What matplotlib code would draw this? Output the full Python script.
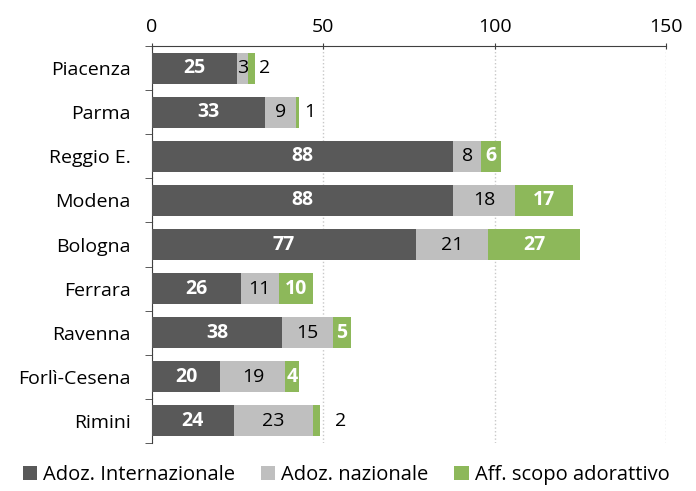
import numpy as np
import matplotlib
matplotlib.use("Agg")
import matplotlib.pyplot as plt

plt.rcParams['font.family'] = ['Open Sans', 'DejaVu Sans']

provinces = ['Piacenza', 'Parma', 'Reggio E.', 'Modena', 'Bologna',
             'Ferrara', 'Ravenna', 'Forlì-Cesena', 'Rimini']
adoz_int = [25, 33, 88, 88, 77, 26, 38, 20, 24]
adoz_naz = [3, 9, 8, 18, 21, 11, 15, 19, 23]
aff_scopo = [2, 1, 6, 17, 27, 10, 5, 4, 2]
series_names = ['Adoz. Internazionale', 'Adoz. nazionale', 'Aff. scopo adorattivo']
colors = ['#595959', '#bfbfbf', '#8db85a']

fig = plt.figure(figsize=(6.96, 4.91), dpi=100)
ax = fig.add_axes([0.218, 0.098, 0.739, 0.808])

y = np.arange(len(provinces))
left = np.zeros(len(provinces))
data = [adoz_int, adoz_naz, aff_scopo]
for vals, col, name in zip(data, colors, series_names):
    vals = np.array(vals)
    ax.barh(y, vals, left=left, height=0.7, color=col, label=name, zorder=3)
    left = left + vals

fs = 14
# labels
for i in range(len(provinces)):
    a, n, f = adoz_int[i], adoz_naz[i], aff_scopo[i]
    ax.text(a / 2, y[i], str(a), ha='center', va='center', color='white',
            fontsize=fs, fontweight='bold', zorder=4)
    ax.text(a + n / 2, y[i], str(n), ha='center', va='center', color='black',
            fontsize=fs, zorder=4)
    if f >= 4:
        ax.text(a + n + f / 2, y[i], str(f), ha='center', va='center',
                color='white', fontsize=fs, fontweight='bold', zorder=4)
    else:
        off = 6 if i == len(provinces) - 1 else 3
        ax.text(a + n + f + off, y[i], str(f), ha='center', va='center',
                color='black', fontsize=fs, zorder=4)

ax.set_xlim(0, 150)
ax.set_ylim(len(provinces) - 0.5, -0.5)
ax.set_yticks(y)
ax.set_yticklabels(provinces, fontsize=fs)
ax.set_yticks(np.arange(-0.5, len(provinces), 1), minor=True)
ax.tick_params(axis='y', which='major', length=0, pad=15)
ax.tick_params(axis='y', which='minor', length=5, direction='out', color='#404040')
ax.xaxis.tick_top()
ax.set_xticks([0, 50, 100, 150])
ax.tick_params(axis='x', length=5, direction='inout', labelsize=fs, pad=5, color='#404040')
ax.grid(axis='x', color='#c8c8c8', linestyle=':', linewidth=1, zorder=0)
for s in ['right', 'bottom']:
    ax.spines[s].set_visible(False)
for s in ['top', 'left']:
    ax.spines[s].set_color('#404040')

handles, labels = ax.get_legend_handles_labels()
fig.legend(handles, labels, loc='center', bbox_to_anchor=(0.497, 0.032), ncol=3,
           frameon=False, fontsize=14.5, handlelength=0.7, handleheight=0.7,
           handletextpad=0.3, columnspacing=1.3, borderaxespad=0, borderpad=0)

fig.savefig('out.png', dpi=100)
